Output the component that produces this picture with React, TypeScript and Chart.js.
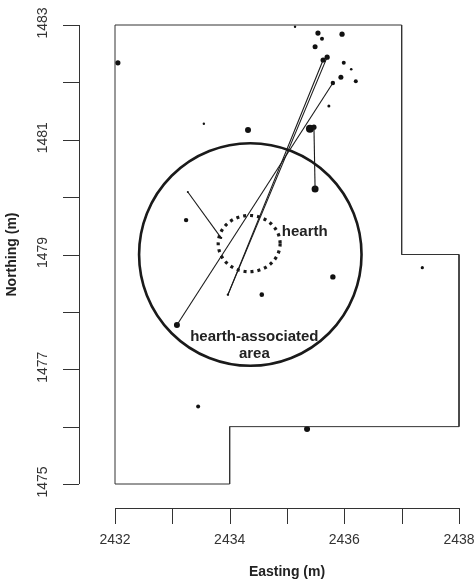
import React, { useEffect, useRef } from 'react';
import { Chart, registerables } from 'chart.js';
Chart.register(...registerables);

// Excavation boundary (Easting, Northing)
const boundaryX = [2432, 2432, 2437, 2437, 2438, 2438, 2434, 2434, 2432];
const boundaryY = [1475, 1483, 1483, 1479, 1479, 1476, 1476, 1475, 1475];

// Artifact locations
const pointX = [2432.05, 2433.55, 2434.32, 2435.40, 2435.47, 2435.49, 2435.14, 2435.54, 2435.61, 2435.96,
  2435.49, 2435.63, 2435.70, 2435.99, 2436.12, 2435.94, 2436.20, 2435.80, 2435.73, 2433.24,
  2434.56, 2435.80, 2437.36, 2433.45, 2435.35, 2433.08, 2433.97, 2433.27, 2433.85];
const pointY = [1482.34, 1481.28, 1481.17, 1481.19, 1481.22, 1480.14, 1482.97, 1482.86, 1482.76, 1482.84,
  1482.62, 1482.39, 1482.44, 1482.34, 1482.23, 1482.09, 1482.02, 1481.99, 1481.59, 1479.60,
  1478.30, 1478.61, 1478.77, 1476.35, 1475.96, 1477.77, 1478.30, 1480.09, 1479.29];
const pointSize = [2.6, 1.2, 3, 4, 2.6, 3.5, 1.2, 2.6, 2, 2.6,
  2.5, 2.6, 2.6, 2, 1.3, 2.5, 2, 2.2, 1.5, 2.2,
  2.3, 2.7, 1.6, 2, 3, 3, 1.2, 1, 1.2];

// Refit lines (from -> to)
const refitFromX = [2433.08, 2433.97, 2433.97, 2435.47, 2433.27];
const refitFromY = [1477.77, 1478.30, 1478.30, 1481.22, 1480.09];
const refitToX = [2435.80, 2435.63, 2435.70, 2435.49, 2433.85];
const refitToY = [1481.99, 1482.39, 1482.44, 1480.14, 1479.29];

// Circles: hearth-associated area and hearth
const areaCenter = [2434.36, 1479.0];
const areaRadius = 1.94;
const hearthCenter = [2434.34, 1479.19];
const hearthRadiusX = 0.54;
const hearthRadiusY = 0.49;

// Labels
const labelText = ['hearth', 'hearth-associated', 'area'];
const labelX = [2435.31, 2434.43, 2434.43];
const labelY = [1479.39, 1477.56, 1477.27];

// Axes
const xTicks = [2432, 2433, 2434, 2435, 2436, 2437, 2438];
const xTickLabels = ['2432', '', '2434', '', '2436', '', '2438'];
const yTicks = [1475, 1476, 1477, 1478, 1479, 1480, 1481, 1482, 1483];
const yTickLabels = ['1475', '', '1477', '', '1479', '', '1481', '', '1483'];
const xTitle = 'Easting (m)';
const yTitle = 'Northing (m)';

const FONT = '"Liberation Sans", Arial, Helvetica, sans-serif';

const decorPlugin = {
  id: 'decor',
  beforeDatasetsDraw(chart: any) {
    const { ctx, scales } = chart;
    const xs = scales.x, ys = scales.y;
    ctx.save();
    // big circle
    const cx = xs.getPixelForValue(areaCenter[0]);
    const cy = ys.getPixelForValue(areaCenter[1]);
    const rx = xs.getPixelForValue(areaCenter[0] + areaRadius) - cx;
    const ry = cy - ys.getPixelForValue(areaCenter[1] + areaRadius);
    ctx.beginPath();
    ctx.ellipse(cx, cy, rx, ry, 0, 0, Math.PI * 2);
    ctx.strokeStyle = '#1a1a1a';
    ctx.lineWidth = 2.6;
    ctx.stroke();
    // hearth dotted circle
    const hx = xs.getPixelForValue(hearthCenter[0]);
    const hy = ys.getPixelForValue(hearthCenter[1]);
    const hrx = xs.getPixelForValue(hearthCenter[0] + hearthRadiusX) - hx;
    const hry = hy - ys.getPixelForValue(hearthCenter[1] + hearthRadiusY);
    ctx.beginPath();
    ctx.ellipse(hx, hy, hrx, hry, 0, 0, Math.PI * 2);
    ctx.setLineDash([3, 4]);
    ctx.lineWidth = 3.2;
    ctx.strokeStyle = '#1a1a1a';
    ctx.stroke();
    ctx.setLineDash([]);
    ctx.restore();
  },
  afterDatasetsDraw(chart: any) {
    const { ctx, scales, chartArea } = chart;
    const xs = scales.x, ys = scales.y;
    ctx.save();
    // labels in plot
    ctx.font = `bold 15px ${FONT}`;
    ctx.fillStyle = '#222';
    ctx.textAlign = 'center';
    ctx.textBaseline = 'middle';
    labelText.forEach((t, i) => {
      ctx.fillText(t, xs.getPixelForValue(labelX[i]), ys.getPixelForValue(labelY[i]));
    });

    // x axis
    const axY = chartArea.bottom + 24;
    ctx.strokeStyle = '#333';
    ctx.lineWidth = 1;
    ctx.beginPath();
    ctx.moveTo(xs.getPixelForValue(xTicks[0]), axY + 0.5);
    ctx.lineTo(xs.getPixelForValue(xTicks[xTicks.length - 1]), axY + 0.5);
    xTicks.forEach((v) => {
      const px = Math.round(xs.getPixelForValue(v)) + 0.5;
      ctx.moveTo(px, axY);
      ctx.lineTo(px, axY + 16);
    });
    ctx.stroke();
    ctx.font = `14px ${FONT}`;
    ctx.fillStyle = '#333';
    ctx.textAlign = 'center';
    ctx.textBaseline = 'middle';
    xTicks.forEach((v, i) => {
      if (xTickLabels[i]) ctx.fillText(xTickLabels[i], xs.getPixelForValue(v), axY + 32);
    });
    ctx.font = `bold 14px ${FONT}`;
    ctx.fillStyle = '#222';
    ctx.fillText(xTitle, (chartArea.left + chartArea.right) / 2, axY + 64);

    // y axis
    const axX = chartArea.left - 36;
    ctx.beginPath();
    ctx.moveTo(axX + 0.5, ys.getPixelForValue(yTicks[0]));
    ctx.lineTo(axX + 0.5, ys.getPixelForValue(yTicks[yTicks.length - 1]));
    yTicks.forEach((v) => {
      const py = Math.round(ys.getPixelForValue(v)) + 0.5;
      ctx.moveTo(axX, py);
      ctx.lineTo(axX - 16, py);
    });
    ctx.stroke();
    ctx.font = `14px ${FONT}`;
    ctx.fillStyle = '#333';
    yTicks.forEach((v, i) => {
      if (!yTickLabels[i]) return;
      ctx.save();
      ctx.translate(axX - 36, ys.getPixelForValue(v) - 2);
      ctx.rotate(-Math.PI / 2);
      ctx.fillText(yTickLabels[i], 0, 0);
      ctx.restore();
    });
    ctx.save();
    ctx.font = `bold 14px ${FONT}`;
    ctx.fillStyle = '#222';
    ctx.translate(12, (chartArea.top + chartArea.bottom) / 2);
    ctx.rotate(-Math.PI / 2);
    ctx.fillText(yTitle, 0, 0);
    ctx.restore();
    ctx.restore();
  },
};

export default function App() {
  const ref = useRef<HTMLCanvasElement | null>(null);
  useEffect(() => {
    if (!ref.current) return;
    const boundary = boundaryX.map((x, i) => ({ x, y: boundaryY[i] }));
    const pts = pointX.map((x, i) => ({ x, y: pointY[i] }));
    const refitSets = refitFromX.map((_, i) => ({
      type: 'line' as const,
      data: [
        { x: refitFromX[i], y: refitFromY[i] },
        { x: refitToX[i], y: refitToY[i] },
      ],
      borderColor: '#1a1a1a',
      borderWidth: 1.1,
      pointRadius: 0,
      showLine: true,
      fill: false,
      tension: 0,
      clip: false as any,
    }));
    const chart = new Chart(ref.current, {
      type: 'scatter',
      data: {
        datasets: [
          {
            type: 'line',
            data: boundary,
            borderColor: '#333',
            borderWidth: 1,
            pointRadius: 0,
            showLine: true,
            fill: false,
            tension: 0,
            clip: false as any,
          } as any,
          ...refitSets,
          {
            type: 'scatter',
            data: pts,
            backgroundColor: '#111',
            borderColor: '#111',
            borderWidth: 0,
            pointRadius: pointSize,
            clip: false as any,
          } as any,
        ],
      },
      options: {
        animation: false,
        responsive: false,
        maintainAspectRatio: false,
        events: [],
        layout: { padding: { left: 115, right: 16, top: 25, bottom: 97 } },
        plugins: { legend: { display: false }, tooltip: { enabled: false } },
        scales: {
          x: { type: 'linear', min: 2432, max: 2438, display: false },
          y: { type: 'linear', min: 1475, max: 1483, display: false },
        },
      },
      plugins: [decorPlugin],
    });
    return () => chart.destroy();
  }, []);
  return (
    <div style={{ position: 'fixed', left: 0, top: 0, width: 475, height: 581, background: '#fff' }}>
      <canvas ref={ref} width={475} height={581} style={{ width: 475, height: 581, display: 'block' }} />
    </div>
  );
}
